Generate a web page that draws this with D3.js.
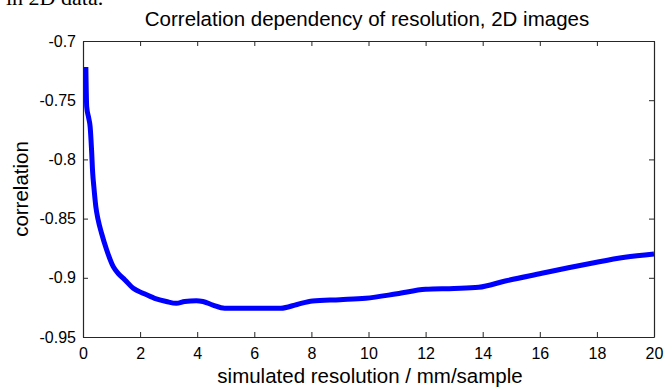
<!DOCTYPE html>
<html>
<head>
<meta charset="utf-8">
<script src="https://cdn.jsdelivr.net/npm/d3@7"></script>
<style>
  html, body { margin: 0; padding: 0; background: #fff; }
  svg { display: block; }
  text { font-family: "Liberation Sans", Arial, sans-serif; fill: #000; }
</style>
</head>
<body>
<svg id="chart" width="664" height="390"></svg>
<script>
// Resolution (mm/sample) and the resulting correlation
const resolution = [0.1, 0.13, 0.2, 0.25, 0.3, 0.34, 0.38, 0.45, 0.53, 0.65, 0.83, 1.06, 1.23, 1.47, 1.76, 2.1, 2.51, 2.92, 3.27, 3.56, 3.97, 4.2, 4.55, 4.96, 5.5, 6.2, 6.93, 7.5, 8.04, 9.0, 9.9, 11.0, 12.0, 13.0, 13.86, 14.79, 16.07, 17.0, 17.81, 18.98, 20.0];
const correlation = [-0.722, -0.7555, -0.765, -0.7724, -0.792, -0.8117, -0.823, -0.840, -0.851, -0.8624, -0.8765, -0.8906, -0.8962, -0.9018, -0.9089, -0.913, -0.9173, -0.920, -0.9216, -0.920, -0.9193, -0.920, -0.923, -0.9257, -0.9258, -0.9257, -0.9257, -0.9225, -0.9196, -0.9185, -0.9173, -0.9135, -0.9097, -0.909, -0.908, -0.9027, -0.8962, -0.8915, -0.8877, -0.8827, -0.8799];

const xTicks = [0, 2, 4, 6, 8, 10, 12, 14, 16, 18, 20];
const yTicks = [-0.95, -0.9, -0.85, -0.8, -0.75, -0.7];

const titleText = "Correlation dependency of resolution, 2D images";
const xLabel = "simulated resolution / mm/sample";
const yLabel = "correlation";

const svg = d3.select("#chart");
const m = { left: 83, right: 654, top: 41, bottom: 337 };

const x = d3.scaleLinear().domain([0, 20]).range([m.left, m.right]);
const y = d3.scaleLinear().domain([-0.95, -0.7]).range([m.bottom, m.top]);

// Fragment of the surrounding document text, clipped at the top edge
svg.append("text")
  .attr("x", 6).attr("y", 5)
  .style("font-family", "'Liberation Serif', 'Times New Roman', serif")
  .style("font-size", "22px")
  .text("in 2D data.");

const axisColor = "#262626";
const tick = 5;

// Bottom axis with labels
const gx = svg.append("g").attr("transform", `translate(0,${m.bottom})`)
  .call(d3.axisBottom(x).tickValues(xTicks).tickSizeInner(-tick).tickSizeOuter(0).tickPadding(10).tickFormat(d3.format("d")));
// Top axis (ticks only)
const gxt = svg.append("g").attr("transform", `translate(0,${m.top})`)
  .call(d3.axisTop(x).tickValues(xTicks).tickSizeInner(-tick).tickSizeOuter(0).tickFormat(""));
// Left axis with labels
const gy = svg.append("g").attr("transform", `translate(${m.left},0)`)
  .call(d3.axisLeft(y).tickValues(yTicks).tickSizeInner(-tick).tickSizeOuter(0).tickPadding(7).tickFormat(d => String(d)));
// Right axis (ticks only)
const gyr = svg.append("g").attr("transform", `translate(${m.right},0)`)
  .call(d3.axisRight(y).tickValues(yTicks).tickSizeInner(-tick).tickSizeOuter(0).tickFormat(""));

[gx, gxt, gy, gyr].forEach(g => {
  g.selectAll(".domain").attr("stroke", axisColor).attr("stroke-width", 1.2);
  g.selectAll(".tick line").attr("stroke", axisColor).attr("stroke-width", 1);
  g.selectAll(".tick text")
    .style("font-family", "'Liberation Sans', Arial, sans-serif")
    .style("font-size", "16px")
    .attr("fill", "#000");
});
gx.selectAll(".tick text").attr("dy", "0.75em");

// Curve
const line = d3.line().x((d, i) => x(resolution[i])).y(d => y(d)).curve(d3.curveMonotoneX);
svg.append("path")
  .datum(correlation)
  .attr("d", line)
  .attr("fill", "none")
  .attr("stroke", "#0000ff")
  .attr("stroke-width", 5)
  .attr("stroke-linejoin", "round");

// Title and axis labels
svg.append("text")
  .attr("x", 367).attr("y", 26)
  .attr("text-anchor", "middle")
  .style("font-size", "20.5px")
  .text(titleText);

svg.append("text")
  .attr("x", 370).attr("y", 383)
  .attr("text-anchor", "middle")
  .style("font-size", "20.5px")
  .text(xLabel);

svg.append("text")
  .attr("transform", `translate(28,189) rotate(-90)`)
  .attr("text-anchor", "middle")
  .style("font-size", "20.5px")
  .text(yLabel);
</script>
</body>
</html>
